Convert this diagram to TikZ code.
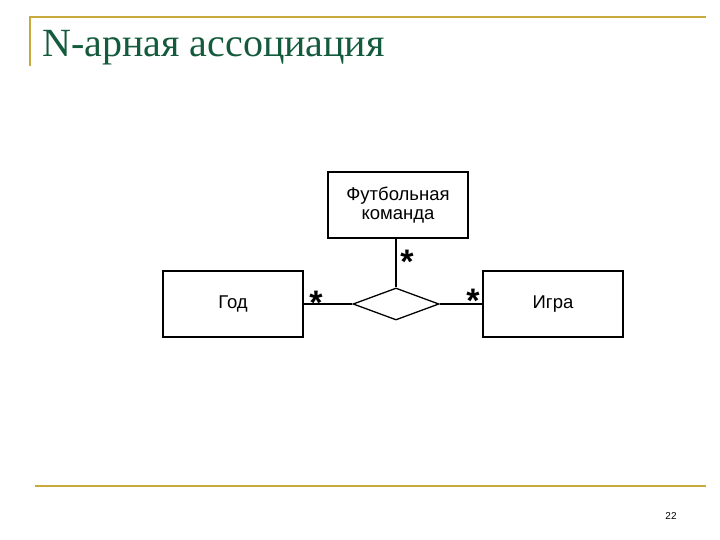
\documentclass[tikz,border=0pt]{standalone}
\usepackage{fontspec}
\setmainfont{Liberation Serif}
\newfontfamily\boxfont{Liberation Sans}
\usetikzlibrary{shapes.geometric}
\definecolor{olive}{RGB}{200,170,60}
\definecolor{ttl}{RGB}{20,90,60}
\begin{document}
\begin{tikzpicture}[x=1pt,y=-1pt,
  cls/.style={draw,line width=1.3pt,minimum width=140pt,minimum height=66pt,inner sep=0pt,font=\boxfont\fontsize{18.5}{19}\selectfont,align=center},
  ln/.style={line width=1.3pt},
  star/.style={font=\boxfont\bfseries\fontsize{34}{34}\selectfont,inner sep=0pt}]
\useasboundingbox (0,0) rectangle (720,540);
\draw[olive,line width=1.5pt] (30,66) -- (30,17) -- (706,17);
\draw[olive,line width=1.5pt] (35,486) -- (706,486);
\node[ttl,anchor=west,font=\fontsize{40}{42}\selectfont,inner sep=0pt] (title) at (42,48) {N-арная ассоциация};
\node[font=\boxfont\fontsize{10}{10}\selectfont] (pg) at (671,516) {22};
\node[cls] (team) at (398,205) {Футбольная\\команда};
\node[cls] (year) at (233,304) {Год};
\node[cls] (game) at (553,304) {Игра};
\node[draw,diamond,line width=1.3pt,minimum width=86pt,minimum height=32pt,inner sep=0pt,aspect=2.6] (as) at (396,304) {};
\draw[ln] (as.north) -- (as.north |- team.south);
\draw[ln] (year.east) -- (as.west);
\draw[ln] (as.east) -- (game.west);
\node[star] (s1) at (407,262) {*};
\node[star] (s2) at (316,303) {*};
\node[star] (s3) at (473,301) {*};
\end{tikzpicture}
\end{document}
